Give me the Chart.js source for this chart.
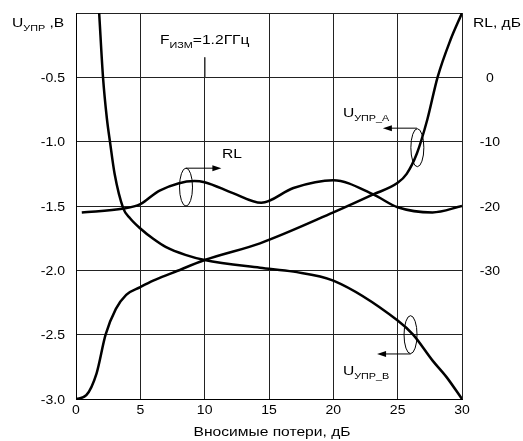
<!DOCTYPE html>
<html>
<head>
<meta charset="utf-8">
<script src="https://cdn.jsdelivr.net/npm/chart.js@4/dist/chart.umd.min.js"></script>
<style>
  html, body { margin: 0; padding: 0; background: #fff; }
</style>
</head>
<body>
<canvas id="chart" width="523" height="441"></canvas>
<script>
// Вносимые потери, дБ
const uaLoss = [0, 0.8, 1.6, 2.3, 3.1, 3.9, 5, 6, 7.5, 10, 14.3, 20, 23.1, 25, 25.7, 26.5, 27.3, 28.1, 29.1, 30];
const uaVolt = [-3.0, -2.97, -2.8, -2.5, -2.3, -2.19, -2.13, -2.08, -2.02, -1.92, -1.79, -1.55, -1.41, -1.32, -1.25, -1.09, -0.83, -0.5, -0.21, 0];

const ubLoss = [1.8, 2.1, 2.4, 2.64, 3.0, 3.68, 4.2, 5, 6, 7, 8.5, 10, 14.3, 16.9, 20, 25, 26.2, 27.7, 28.8, 30];
const ubVolt = [0, -0.5, -0.82, -1.0, -1.25, -1.52, -1.595, -1.675, -1.755, -1.82, -1.88, -1.92, -1.98, -2.01, -2.08, -2.39, -2.5, -2.7, -2.83, -3.0];

const rlLoss = [0.45, 3.7, 5, 6.5, 9.2, 10, 12.2, 14.4, 16.9, 20, 23.1, 25, 27.7, 30];
const rlDb = [-21.0, -20.4, -19.7, -17.6, -16.1, -16.3, -18.0, -19.5, -17.2, -16.0, -18.2, -20.2, -21.0, -20.0];

const xTicks = ["0", "5", "10", "15", "20", "25", "30"];
const uTicks = ["-0.5", "-1.0", "-1.5", "-2.0", "-2.5", "-3.0"];
const rlTicks = ["0", "-10", "-20", "-30"];

const FONT = '"Liberation Sans", Arial, sans-serif';
const SX = 1.2; // text in the original is drawn a bit wide

function pts(xs, ys) {
  return xs.map((v, i) => ({ x: v, y: ys[i] }));
}

function text(ctx, str, x, y, align, size, sx) {
  ctx.save();
  ctx.font = size + "px " + FONT;
  ctx.textAlign = align;
  ctx.textBaseline = "alphabetic";
  ctx.translate(x, y);
  ctx.scale(sx || SX, 1);
  ctx.fillText(str, 0, 0);
  ctx.restore();
}

function width(ctx, str, size) {
  ctx.font = size + "px " + FONT;
  return ctx.measureText(str).width * SX;
}

function subText(ctx, x, y, main, sub, rest, size) {
  const small = Math.round(size * 0.72);
  text(ctx, main, x, y, "left", size);
  let w = width(ctx, main, size);
  text(ctx, sub, x + w, y + Math.round(size * 0.3), "left", small);
  let w2 = width(ctx, sub, small);
  if (rest) text(ctx, rest, x + w + w2, y, "left", size);
}

function arrowLeft(ctx, x1, x2, y) {
  ctx.beginPath();
  ctx.moveTo(x1, y);
  ctx.lineTo(x2 + 7, y);
  ctx.stroke();
  ctx.beginPath();
  ctx.moveTo(x2, y);
  ctx.lineTo(x2 + 9, y - 3);
  ctx.lineTo(x2 + 9, y + 3);
  ctx.closePath();
  ctx.fill();
}

function arrowRight(ctx, x1, x2, y) {
  ctx.beginPath();
  ctx.moveTo(x1, y);
  ctx.lineTo(x2 - 7, y);
  ctx.stroke();
  ctx.beginPath();
  ctx.moveTo(x2, y);
  ctx.lineTo(x2 - 9, y - 3);
  ctx.lineTo(x2 - 9, y + 3);
  ctx.closePath();
  ctx.fill();
}

function ellipse(ctx, cx, cy) {
  ctx.beginPath();
  ctx.ellipse(cx, cy, 6.5, 19, 0, 0, Math.PI * 2);
  ctx.stroke();
}

const labelsPlugin = {
  id: "labels",
  afterDraw(chart) {
    const { ctx, chartArea } = chart;
    const sx = chart.scales.x, sy = chart.scales.y, sr = chart.scales.y1;
    const px = (v) => sx.getPixelForValue(v);
    const py = (v) => sy.getPixelForValue(v);
    ctx.save();

    // gap in the x=10 grid line above the frequency label
    ctx.fillStyle = "#fff";
    ctx.fillRect(px(10) - 2, chartArea.top + 1, 4, py(-0.344) - chartArea.top - 1);

    ctx.fillStyle = "#000";
    ctx.strokeStyle = "#000";

    // tick labels
    xTicks.forEach((t) => text(ctx, t, px(Number(t)), chartArea.bottom + 15, "center", 13, 1.08));
    uTicks.forEach((t) => text(ctx, t, chartArea.left - 11, py(Number(t)) + 4.5, "right", 13, 1.08));
    rlTicks.forEach((t) => text(ctx, t, chartArea.right + 28, sr.getPixelForValue(Number(t)) + 4.5, "center", 13, 1.08));

    // axis names
    text(ctx, "Вносимые потери, дБ", (chartArea.left + chartArea.right) / 2 + 3, chartArea.bottom + 37, "center", 13);
    subText(ctx, 12, 27, "U", "УПР", " ,В", 13);
    text(ctx, "RL, дБ", chartArea.right + 11, 27, "left", 13);

    // frequency label
    subText(ctx, px(6.53), py(-0.243), "F", "ИЗМ", "=1.2ГГц", 13);

    ctx.lineWidth = 1;
    ctx.strokeStyle = "#555";
    ctx.beginPath();
    ctx.moveTo(px(10) + 0.5, py(-0.344));
    ctx.lineTo(px(10) + 0.5, py(-0.5));
    ctx.stroke();
    ctx.strokeStyle = "#000";

    // RL marker
    ellipse(ctx, px(8.55), py(-1.353));
    arrowRight(ctx, px(8.55), px(11.3), py(-1.206));
    text(ctx, "RL", px(11.35), py(-1.13), "left", 13);

    // U_УПР_А marker
    ellipse(ctx, px(26.53), py(-1.047));
    arrowLeft(ctx, px(26.5), px(23.85), py(-0.895));
    subText(ctx, px(20.75), py(-0.81), "U", "УПР_А", "", 13);

    // U_УПР_В marker
    ellipse(ctx, px(26.0), py(-2.5));
    arrowLeft(ctx, px(26.0), px(23.4), py(-2.65));
    subText(ctx, px(20.75), py(-2.81), "U", "УПР_В", "", 13);

    ctx.restore();
  },
};

const lineStyle = {
  borderColor: "#000",
  borderWidth: 2.5,
  pointRadius: 0,
  showLine: true,
  fill: false,
  cubicInterpolationMode: "monotone",
};

new Chart(document.getElementById("chart"), {
  type: "scatter",
  data: {
    datasets: [
      Object.assign({ label: "U_УПР_А", data: pts(uaLoss, uaVolt), yAxisID: "y" }, lineStyle),
      Object.assign({ label: "U_УПР_В", data: pts(ubLoss, ubVolt), yAxisID: "y" }, lineStyle),
      Object.assign({ label: "RL", data: pts(rlLoss, rlDb), yAxisID: "y1" }, lineStyle),
    ],
  },
  options: {
    responsive: false,
    animation: false,
    layout: { padding: { top: 13, left: 0, right: 0, bottom: 0 } },
    plugins: {
      legend: { display: false },
      tooltip: { enabled: false },
    },
    scales: {
      x: {
        type: "linear",
        min: 0,
        max: 30,
        afterBuildTicks: (s) => { s.ticks = xTicks.map((v) => ({ value: Number(v) })); },
        afterFit: (s) => { s.height = 42; },
        grid: { color: "#222", lineWidth: 1, drawTicks: false },
        border: { color: "#000", width: 1 },
        ticks: { display: false },
      },
      y: {
        position: "left",
        min: -3,
        max: 0,
        afterBuildTicks: (s) => {
          s.ticks = [0].concat(uTicks.map(Number)).map((v) => ({ value: v }));
        },
        afterFit: (s) => { s.width = 76; },
        grid: { color: "#222", lineWidth: 1, drawTicks: false },
        border: { color: "#000", width: 1 },
        ticks: { display: false },
      },
      y1: {
        position: "right",
        min: -50,
        max: 10,
        afterBuildTicks: (s) => {
          s.ticks = rlTicks.map(Number).map((v) => ({ value: v }));
        },
        afterFit: (s) => { s.width = 61; },
        grid: { display: false, drawTicks: false },
        border: { display: false },
        ticks: { display: false },
      },
    },
  },
  plugins: [labelsPlugin],
});
</script>
</body>
</html>
